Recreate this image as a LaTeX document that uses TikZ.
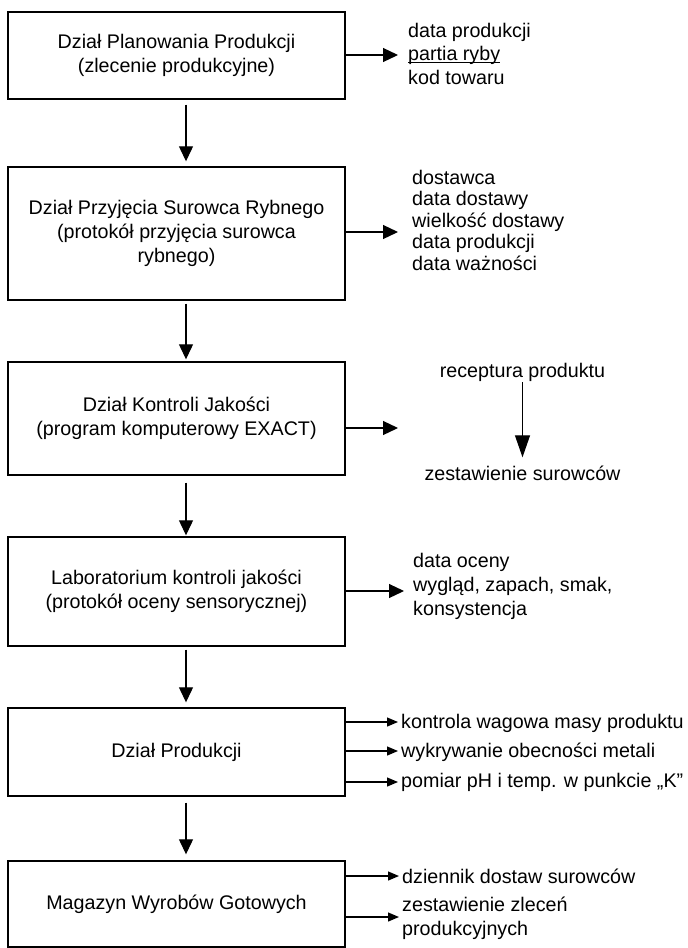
\documentclass[tikz,border=0pt]{standalone}
\usepackage{fontspec}
\setmainfont{Liberation Sans}
\usetikzlibrary{arrows.meta}
\newcommand\myul[1]{\setbox0\hbox{#1}\rlap{\rule[-2.8pt]{\wd0}{1.2pt}}\box0}
\begin{document}
\begin{tikzpicture}[x=1pt,y=-1pt,
  font=\fontsize{19.7}{24}\selectfont,
  box/.style={draw,line width=1.4pt,minimum width=337pt,inner sep=0pt,align=center},
  lbl/.style={anchor=base west,inner sep=0pt},
  clbl/.style={anchor=base,inner sep=0pt},
  bigarr/.style={line width=1.2pt,-{Triangle[length=15pt,width=14pt]}},
  smallarr/.style={line width=1.2pt,-{Triangle[length=11pt,width=9pt]}},
  recarr/.style={line width=1.2pt,-{Triangle[length=22pt,width=15pt]}}]
\useasboundingbox (0,0) rectangle (688,948);

% main boxes
\node[box,minimum height=87pt]  (b1) at (176.5,55.5)  {Dział Planowania Produkcji\\(zlecenie produkcyjne)};
\node[box,minimum height=133pt] (b2) at (176.5,233.5) {Dział Przyjęcia Surowca Rybnego\\(protokół przyjęcia surowca\\rybnego)};
\node[box,minimum height=113pt] (b3) at (176.5,418.5) {Dział Kontroli Jakości\\(program komputerowy EXACT)};
\node[box,minimum height=109pt] (b4) at (176.5,591.5) {Laboratorium kontroli jakości\\(protokół oceny sensorycznej)};
\node[box,minimum height=88pt]  (b5) at (176.5,752)   {Dział Produkcji};
\node[box,minimum height=86pt]  (b6) at (176.5,904)   {Magazyn Wyrobów Gotowych};

% vertical flow arrows
\coordinate (vx) at (186,0);
\foreach \a/\b/\s/\e in {b1/b2/5/5, b2/b3/3/2, b3/b4/7/1, b4/b5/3/5, b5/b6/6/6}
  \draw[bigarr,shorten <=\s pt,shorten >=\e pt] (\a.south -| vx) -- (\b.north -| vx);

% right arrow end points
\coordinate (e1) at (398,55);
\coordinate (e2) at (398,232);
\coordinate (e3) at (398,428);
\coordinate (e4) at (404,591);
\coordinate (e5a) at (398,722);
\coordinate (e5b) at (398,751);
\coordinate (e5c) at (398,782);
\coordinate (e6a) at (399,876);
\coordinate (e6b) at (399,917);

\draw[bigarr] (b1.east |- e1) -- (e1);
\draw[bigarr] (b2.east |- e2) -- (e2);
\draw[bigarr] (b3.east |- e3) -- (e3);
\draw[bigarr] (b4.east |- e4) -- (e4);
\draw[smallarr] (b5.east |- e5a) -- (e5a);
\draw[smallarr] (b5.east |- e5b) -- (e5b);
\draw[smallarr] (b5.east |- e5c) -- (e5c);
\draw[smallarr] (b6.east |- e6a) -- (e6a);
\draw[smallarr] (b6.east |- e6b) -- (e6b);

% labels box 1
\node[lbl] (l1a) at (408,37)   {data produkcji};
\node[lbl] (l1b) at (408,60.5) {\myul{partia ryby}};
\node[lbl] (l1c) at (408,84)   {kod towaru};

% labels box 2
\node[lbl] (l2a) at (412,184)   {dostawca};
\node[lbl] (l2b) at (412,205.5) {data dostawy};
\node[lbl] (l2c) at (412,227)   {wielkość dostawy};
\node[lbl] (l2d) at (412,248.5) {data produkcji};
\node[lbl] (l2e) at (412,270)   {data ważności};

% labels box 3
\node[clbl] (r1) at (522.5,377) {receptura produktu};
\node[clbl] (r2) at (522.5,480) {zestawienie surowców};
\draw[recarr,shorten <=1pt,shorten >=8pt] (r1.south) -- (r2.north);

% labels box 4
\node[lbl] (l4a) at (413,567) {data oceny};
\node[lbl] (l4b) at (413,591) {wygląd, zapach, smak,};
\node[lbl] (l4c) at (413,615) {konsystencja};

% labels box 5
\node[lbl] (l5a) at (401,728) {kontrola wagowa masy produktu};
\node[lbl] (l5b) at (401,757) {wykrywanie obecności metali};
\node[lbl] (l5c) at (401,787) {pomiar pH i temp. w punkcie „K”};

% labels box 6
\node[lbl] (l6a) at (402,883) {dziennik dostaw surowców};
\node[lbl] (l6b) at (402,911) {zestawienie zleceń};
\node[lbl] (l6c) at (402,935) {produkcyjnych};
\end{tikzpicture}
\end{document}
